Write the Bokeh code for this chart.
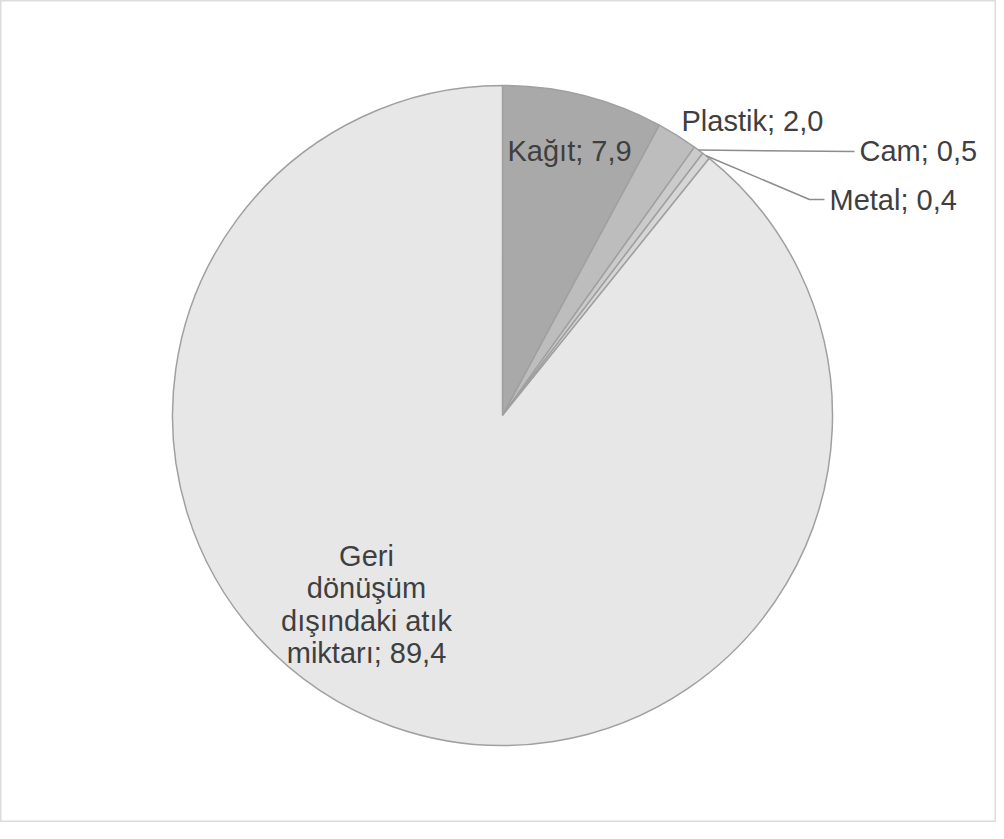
import math
from bokeh.plotting import figure
from bokeh.models import Range1d, ColumnDataSource
from bokeh.core.properties import value
from bokeh.embed import file_html
from bokeh.resources import INLINE

# ---- data ----
categories = ["Kağıt", "Plastik", "Cam", "Metal", "Geri dönüşüm dışındaki atık miktarı"]
values = [7.9, 2.0, 0.5, 0.4, 89.4]
value_labels = ["7,9", "2,0", "0,5", "0,4", "89,4"]
colors = ["#a9a9a9", "#bdbdbd", "#cbcbcb", "#d6d6d6", "#e7e7e7"]

# ---- layout (screen px -> data) ----
W, H = 996, 822
def dx(sx):
    return sx - 8
def dy(sy):
    return (8 + H) - sy

CX, CY, R = dx(510), dy(423), 330
FONT = value("Liberation Sans")
FS = "29px"
TXT = "#3f3f3f"

p = figure(width=W, height=H, output_backend="svg", toolbar_location=None,
           x_range=Range1d(0, W), y_range=Range1d(0, H), min_border=0)
p.axis.visible = False
p.grid.visible = False
p.background_fill_color = "white"
p.border_fill_color = "white"
p.outline_line_color = "#dcdcdc"
p.outline_line_width = 2

total = sum(values)
starts, ends, mids = [], [], []
cum = 0.0
for v in values:
    a0 = math.pi / 2 - 2 * math.pi * cum / total
    cum += v
    a1 = math.pi / 2 - 2 * math.pi * cum / total
    starts.append(a0)
    ends.append(a1)
    mids.append((a0 + a1) / 2)

src = ColumnDataSource(dict(start=starts, end=ends, color=colors))
p.wedge(x=CX, y=CY, radius=R, start_angle="start", end_angle="end",
        direction="clock", fill_color="color", line_color="#a0a0a0",
        line_width=1.5, source=src)

def edge(i):
    return CX + R * math.cos(mids[i]), CY + R * math.sin(mids[i])

# Kağıt label (inside slice)
p.text(x=[dx(515)], y=[dy(158)], text=[f"{categories[0]}; {value_labels[0]}"],
       text_font=FONT, text_font_size=FS, text_color=TXT,
       text_baseline="alphabetic", text_align="left")

# Plastik label (outside, no leader)
p.text(x=[dx(689)], y=[dy(128)], text=[f"{categories[1]}; {value_labels[1]}"],
       text_font=FONT, text_font_size=FS, text_color=TXT,
       text_baseline="alphabetic", text_align="left")

# Cam label with leader
ex, ey = edge(2)
p.line(x=[ex, dx(862)], y=[ey, dy(159)], line_color="#8c8c8c", line_width=1.5)
p.text(x=[dx(867)], y=[dy(158)], text=[f"{categories[2]}; {value_labels[2]}"],
       text_font=FONT, text_font_size=FS, text_color=TXT,
       text_baseline="alphabetic", text_align="left")

# Metal label with leader
ex, ey = edge(3)
p.line(x=[ex, dx(817), dx(832)], y=[ey, dy(207), dy(207)],
       line_color="#8c8c8c", line_width=1.5)
p.text(x=[dx(837)], y=[dy(207)], text=[f"{categories[3]}; {value_labels[3]}"],
       text_font=FONT, text_font_size=FS, text_color=TXT,
       text_baseline="alphabetic", text_align="left")

# Big slice label, wrapped
lines = ["Geri", "dönüşüm", "dışındaki atık", f"miktarı; {value_labels[4]}"]
base0, step = 563, 32.5
p.text(x=[dx(374)] * len(lines), y=[dy(base0 + i * step) for i in range(len(lines))],
       text=lines, text_font=FONT, text_font_size=FS, text_color=TXT,
       text_baseline="alphabetic", text_align="center")

open("out.html", "w").write(file_html(p, INLINE))
